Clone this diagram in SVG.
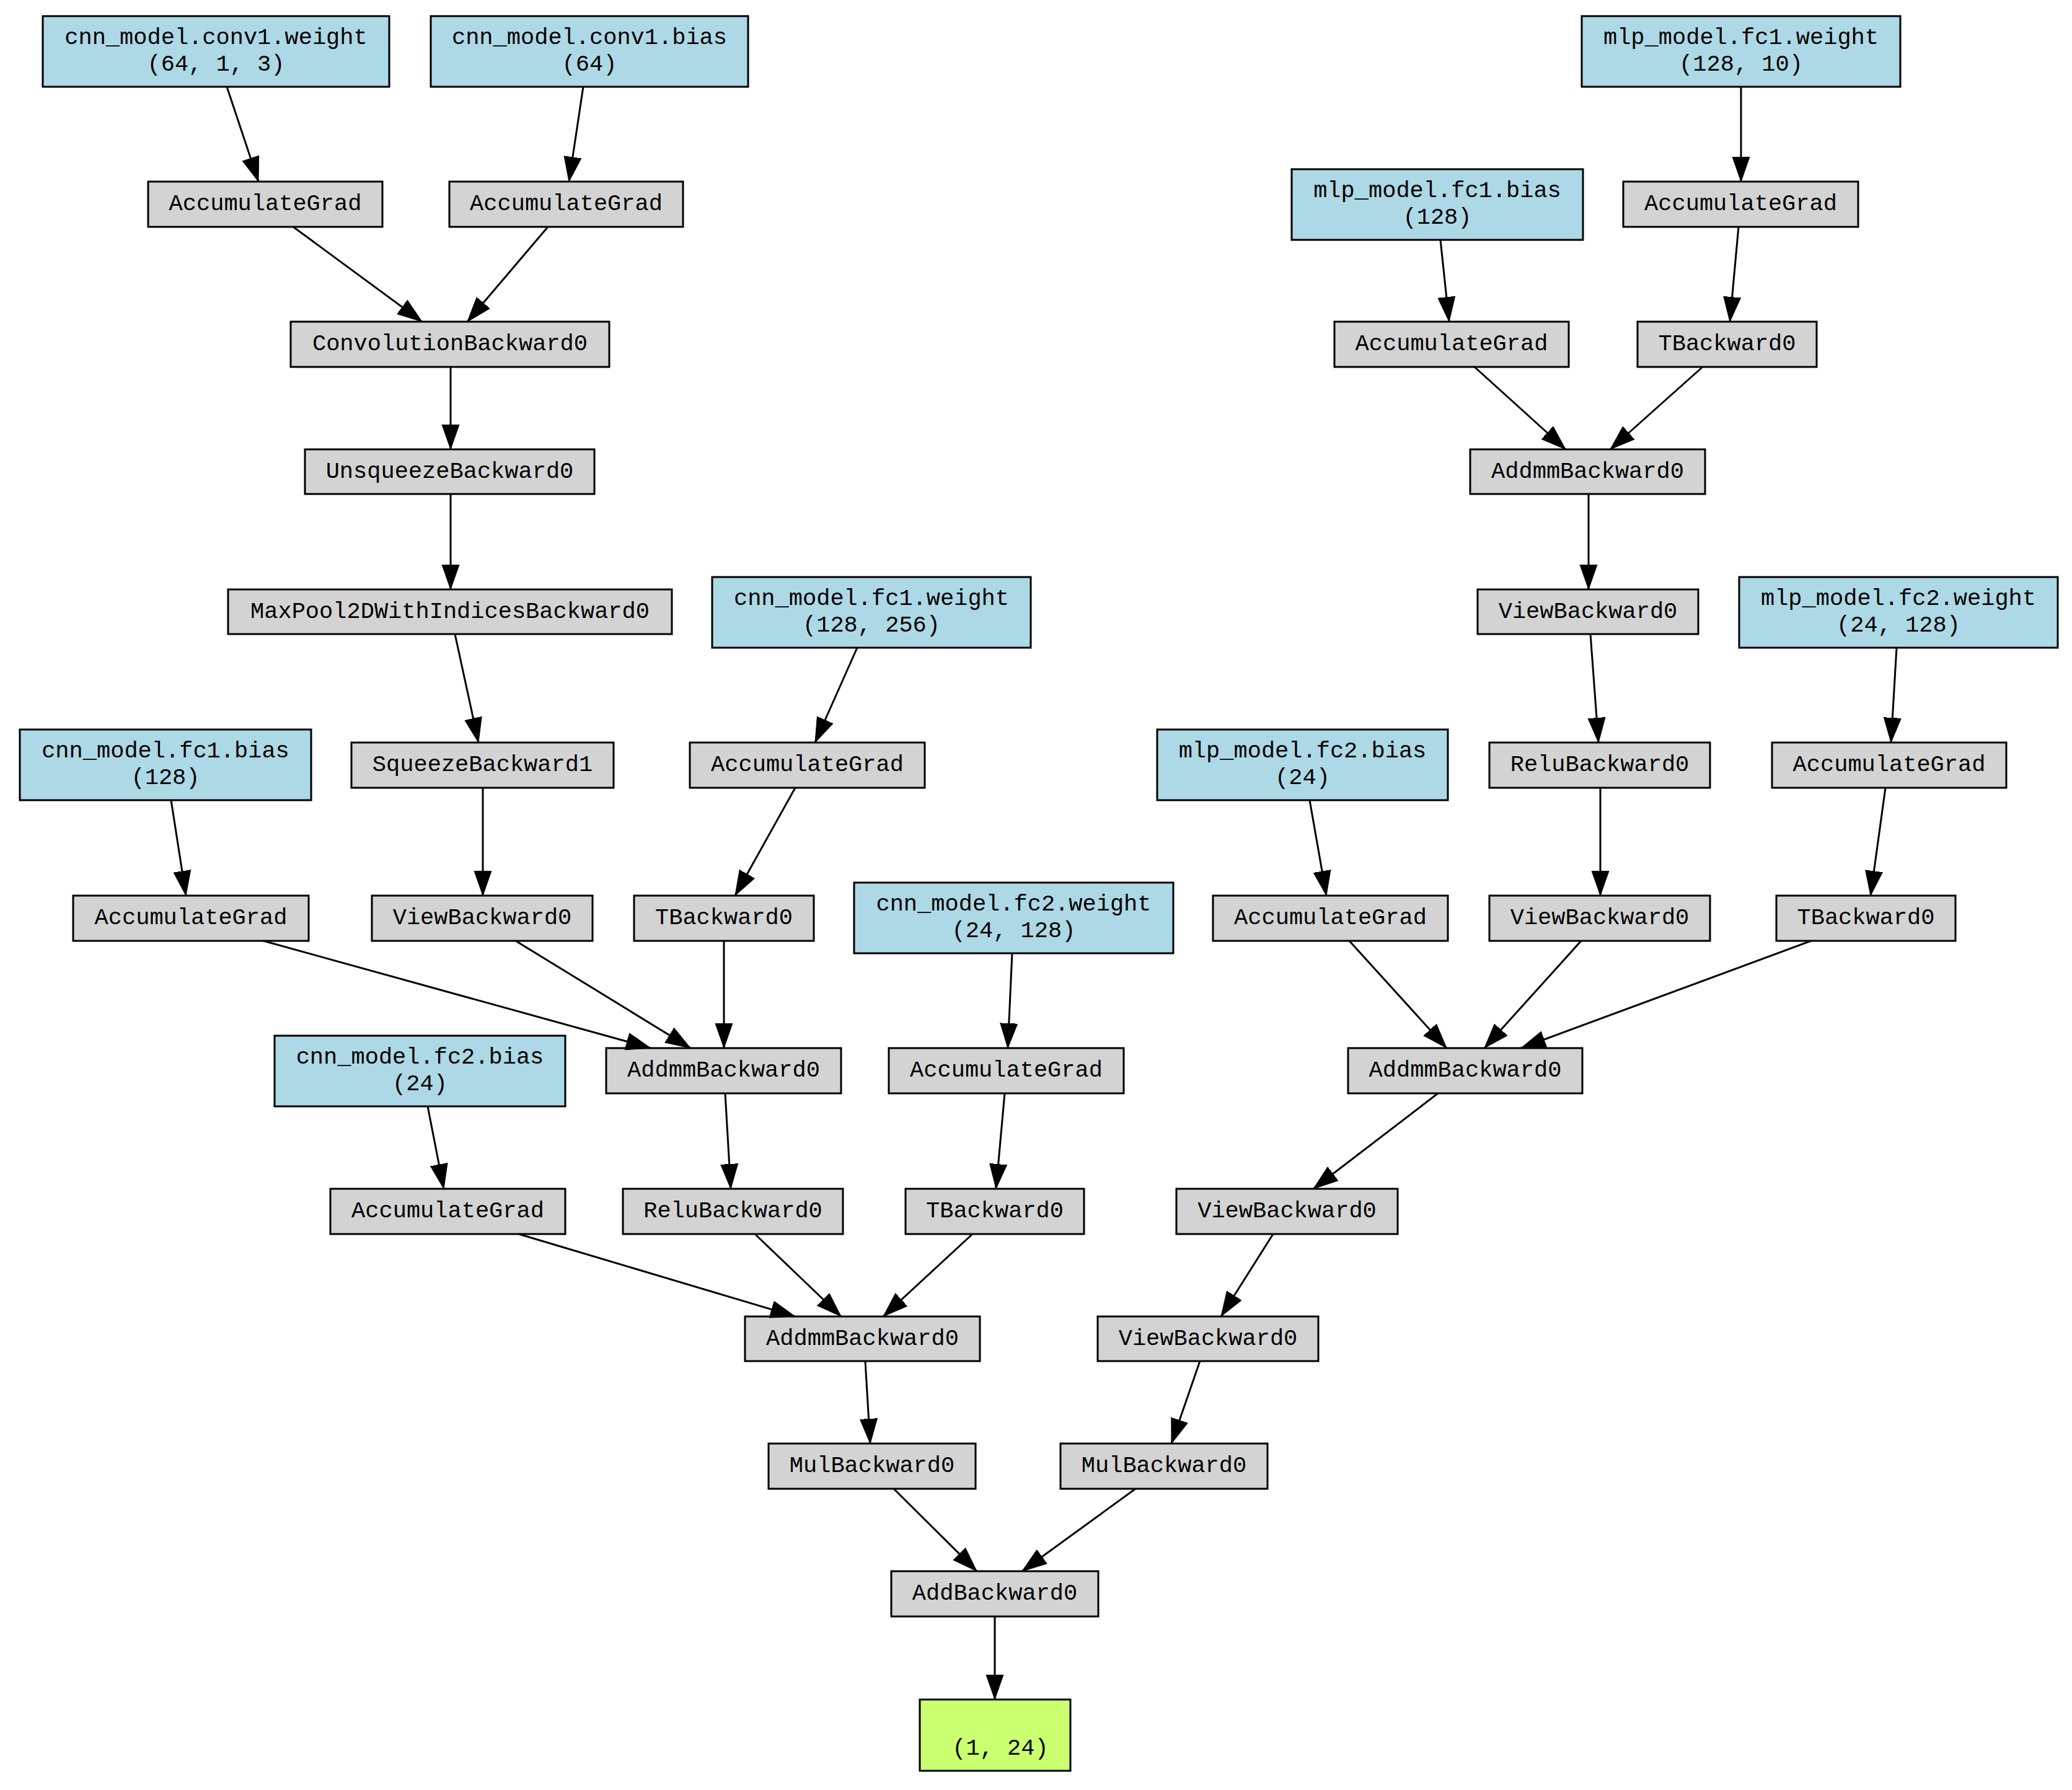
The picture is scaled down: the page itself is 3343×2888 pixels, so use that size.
<svg xmlns="http://www.w3.org/2000/svg" width="3343" height="2888" viewBox="0 0 3343 2888">
<style>
.g{fill:#d3d3d3;stroke:#000;stroke-width:3}
.b{fill:#add8e6;stroke:#000;stroke-width:3}
.o{fill:#caff70;stroke:#000;stroke-width:3}
text{font-family:"Liberation Mono","DejaVu Sans Mono",monospace;font-size:37px;fill:#000;text-anchor:middle}
.e line{stroke:#000;stroke-width:3;marker-end:url(#arr)}
</style>
<defs>
<marker id="arr" markerUnits="userSpaceOnUse" markerWidth="42" markerHeight="30" viewBox="0 -15 42 30" refX="40" refY="0" orient="auto">
<path d="M0,-14 L40,0 L0,14 z" fill="#000" stroke="#000" stroke-width="1"/>
</marker>
</defs>
<rect width="3343" height="2888" fill="#fff"/>
<g id="nodes">
<g id="n1"><rect class="b" x="69" y="26" width="559" height="114"/><text x="348.5" y="71">cnn_model.conv1.weight</text><text x="348.5" y="114">(64, 1, 3)</text></g>
<g id="n2"><rect class="b" x="695" y="26" width="512" height="114"/><text x="951" y="71">cnn_model.conv1.bias</text><text x="951" y="114">(64)</text></g>
<g id="n3"><rect class="b" x="2552" y="26" width="514" height="114"/><text x="2809" y="71">mlp_model.fc1.weight</text><text x="2809" y="114">(128, 10)</text></g>
<g id="n4"><rect class="g" x="239" y="293" width="378" height="73"/><text x="428" y="339">AccumulateGrad</text></g>
<g id="n5"><rect class="g" x="725" y="293" width="377" height="73"/><text x="913.5" y="339">AccumulateGrad</text></g>
<g id="n6"><rect class="b" x="2084" y="273" width="470" height="114"/><text x="2319" y="318">mlp_model.fc1.bias</text><text x="2319" y="361">(128)</text></g>
<g id="n7"><rect class="g" x="2619" y="293" width="379" height="73"/><text x="2808.5" y="339">AccumulateGrad</text></g>
<g id="n8"><rect class="g" x="469" y="519" width="514" height="73"/><text x="726" y="565">ConvolutionBackward0</text></g>
<g id="n9"><rect class="g" x="2153" y="519" width="378" height="73"/><text x="2342" y="565">AccumulateGrad</text></g>
<g id="n10"><rect class="g" x="2642" y="519" width="289" height="73"/><text x="2786.5" y="565">TBackward0</text></g>
<g id="n11"><rect class="g" x="492" y="725" width="467" height="72"/><text x="725.5" y="771">UnsqueezeBackward0</text></g>
<g id="n12"><rect class="g" x="2372" y="725" width="379" height="72"/><text x="2561.5" y="771">AddmmBackward0</text></g>
<g id="n13"><rect class="g" x="368" y="951" width="716" height="72"/><text x="726" y="997">MaxPool2DWithIndicesBackward0</text></g>
<g id="n14"><rect class="b" x="1149" y="931" width="514" height="114"/><text x="1406" y="976">cnn_model.fc1.weight</text><text x="1406" y="1019">(128, 256)</text></g>
<g id="n15"><rect class="g" x="2384" y="951" width="356" height="72"/><text x="2562" y="997">ViewBackward0</text></g>
<g id="n16"><rect class="b" x="2806" y="931" width="514" height="114"/><text x="3063" y="976">mlp_model.fc2.weight</text><text x="3063" y="1019">(24, 128)</text></g>
<g id="n17"><rect class="b" x="32" y="1177" width="470" height="114"/><text x="267" y="1222">cnn_model.fc1.bias</text><text x="267" y="1265">(128)</text></g>
<g id="n18"><rect class="g" x="567" y="1198" width="423" height="73"/><text x="778.5" y="1244">SqueezeBackward1</text></g>
<g id="n19"><rect class="g" x="1113" y="1198" width="379" height="73"/><text x="1302.5" y="1244">AccumulateGrad</text></g>
<g id="n20"><rect class="b" x="1867" y="1177" width="469" height="114"/><text x="2101.5" y="1222">mlp_model.fc2.bias</text><text x="2101.5" y="1265">(24)</text></g>
<g id="n21"><rect class="g" x="2403" y="1198" width="356" height="73"/><text x="2581" y="1244">ReluBackward0</text></g>
<g id="n22"><rect class="g" x="2859" y="1198" width="378" height="73"/><text x="3048" y="1244">AccumulateGrad</text></g>
<g id="n23"><rect class="g" x="118" y="1445" width="380" height="73"/><text x="308" y="1491">AccumulateGrad</text></g>
<g id="n24"><rect class="g" x="600" y="1445" width="356" height="73"/><text x="778" y="1491">ViewBackward0</text></g>
<g id="n25"><rect class="g" x="1023" y="1445" width="290" height="73"/><text x="1168" y="1491">TBackward0</text></g>
<g id="n26"><rect class="b" x="1378" y="1424" width="515" height="114"/><text x="1635.5" y="1469">cnn_model.fc2.weight</text><text x="1635.5" y="1512">(24, 128)</text></g>
<g id="n27"><rect class="g" x="1957" y="1445" width="379" height="73"/><text x="2146.5" y="1491">AccumulateGrad</text></g>
<g id="n28"><rect class="g" x="2403" y="1445" width="356" height="73"/><text x="2581" y="1491">ViewBackward0</text></g>
<g id="n29"><rect class="g" x="2866" y="1445" width="289" height="73"/><text x="3010.5" y="1491">TBackward0</text></g>
<g id="n30"><rect class="b" x="443" y="1671" width="469" height="114"/><text x="677.5" y="1716">cnn_model.fc2.bias</text><text x="677.5" y="1759">(24)</text></g>
<g id="n31"><rect class="g" x="978" y="1691" width="379" height="73"/><text x="1167.5" y="1737">AddmmBackward0</text></g>
<g id="n32"><rect class="g" x="1434" y="1691" width="379" height="73"/><text x="1623.5" y="1737">AccumulateGrad</text></g>
<g id="n33"><rect class="g" x="2175" y="1691" width="378" height="73"/><text x="2364" y="1737">AddmmBackward0</text></g>
<g id="n34"><rect class="g" x="533" y="1918" width="379" height="73"/><text x="722.5" y="1964">AccumulateGrad</text></g>
<g id="n35"><rect class="g" x="1005" y="1918" width="355" height="73"/><text x="1182.5" y="1964">ReluBackward0</text></g>
<g id="n36"><rect class="g" x="1461" y="1918" width="288" height="73"/><text x="1605" y="1964">TBackward0</text></g>
<g id="n37"><rect class="g" x="1898" y="1918" width="357" height="73"/><text x="2076.5" y="1964">ViewBackward0</text></g>
<g id="n38"><rect class="g" x="1202" y="2124" width="379" height="72"/><text x="1391.5" y="2170">AddmmBackward0</text></g>
<g id="n39"><rect class="g" x="1771" y="2124" width="356" height="72"/><text x="1949" y="2170">ViewBackward0</text></g>
<g id="n40"><rect class="g" x="1240" y="2329" width="334" height="73"/><text x="1407" y="2375">MulBackward0</text></g>
<g id="n41"><rect class="g" x="1711" y="2329" width="334" height="73"/><text x="1878" y="2375">MulBackward0</text></g>
<g id="n42"><rect class="g" x="1438" y="2535" width="334" height="73"/><text x="1605" y="2581">AddBackward0</text></g>
<g id="n43"><rect class="o" x="1484" y="2742" width="243" height="115"/><text x="1614" y="2831">(1, 24)</text></g>
</g>
<g id="edges" class="e">
<line x1="366" y1="140" x2="417" y2="293"/>
<line x1="941" y1="140" x2="918" y2="293"/>
<line x1="2809" y1="140" x2="2809" y2="293"/>
<line x1="473" y1="366" x2="681" y2="519"/>
<line x1="884" y1="366" x2="754" y2="519"/>
<line x1="2324" y1="387" x2="2338" y2="519"/>
<line x1="2805" y1="366" x2="2791" y2="519"/>
<line x1="727" y1="592" x2="727" y2="725"/>
<line x1="2379" y1="592" x2="2526" y2="725"/>
<line x1="2747" y1="592" x2="2598" y2="725"/>
<line x1="727" y1="797" x2="727" y2="951"/>
<line x1="2563" y1="797" x2="2563" y2="951"/>
<line x1="734" y1="1023" x2="772" y2="1198"/>
<line x1="1383" y1="1045" x2="1315" y2="1198"/>
<line x1="2566" y1="1023" x2="2579" y2="1198"/>
<line x1="3060" y1="1045" x2="3051" y2="1198"/>
<line x1="276" y1="1291" x2="300" y2="1445"/>
<line x1="779" y1="1271" x2="779" y2="1445"/>
<line x1="1283" y1="1271" x2="1186" y2="1445"/>
<line x1="2113" y1="1291" x2="2140" y2="1445"/>
<line x1="2582" y1="1271" x2="2582" y2="1445"/>
<line x1="3042" y1="1271" x2="3018" y2="1445"/>
<line x1="425" y1="1518" x2="1050" y2="1691"/>
<line x1="832" y1="1518" x2="1114" y2="1691"/>
<line x1="1168" y1="1518" x2="1168" y2="1691"/>
<line x1="1633" y1="1538" x2="1626" y2="1691"/>
<line x1="2177" y1="1518" x2="2334" y2="1691"/>
<line x1="2551" y1="1518" x2="2395" y2="1691"/>
<line x1="2922" y1="1518" x2="2454" y2="1691"/>
<line x1="690" y1="1785" x2="716" y2="1918"/>
<line x1="1170" y1="1764" x2="1179" y2="1918"/>
<line x1="1621" y1="1764" x2="1607" y2="1918"/>
<line x1="2320" y1="1764" x2="2119" y2="1918"/>
<line x1="837" y1="1991" x2="1283" y2="2124"/>
<line x1="1218" y1="1991" x2="1357" y2="2124"/>
<line x1="1569" y1="1991" x2="1425" y2="2124"/>
<line x1="2054" y1="1991" x2="1970" y2="2124"/>
<line x1="1396" y1="2196" x2="1404" y2="2329"/>
<line x1="1936" y1="2196" x2="1890" y2="2329"/>
<line x1="1442" y1="2402" x2="1576" y2="2535"/>
<line x1="1832" y1="2402" x2="1649" y2="2535"/>
<line x1="1605" y1="2608" x2="1605" y2="2742"/>
</g>
</svg>
